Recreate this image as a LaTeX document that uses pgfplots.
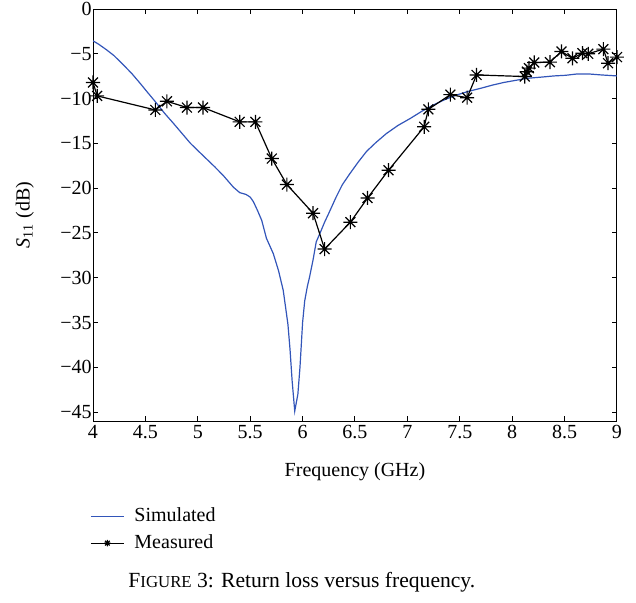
\documentclass[border=0pt]{standalone}
\usepackage{fontspec}
\setmainfont{Liberation Serif}
\usepackage{pgfplots}
\pgfplotsset{compat=1.18}
\definecolor{simblue}{RGB}{50,85,185}
\pgfdeclareplotmark{mstar}{%
 \pgfpathmoveto{\pgfqpoint{-\pgfplotmarksize}{0pt}}\pgfpathlineto{\pgfqpoint{\pgfplotmarksize}{0pt}}%
 \pgfpathmoveto{\pgfqpoint{0pt}{-\pgfplotmarksize}}\pgfpathlineto{\pgfqpoint{0pt}{\pgfplotmarksize}}%
 \pgfpathmoveto{\pgfqpoint{-.707\pgfplotmarksize}{-.707\pgfplotmarksize}}\pgfpathlineto{\pgfqpoint{.707\pgfplotmarksize}{.707\pgfplotmarksize}}%
 \pgfpathmoveto{\pgfqpoint{-.707\pgfplotmarksize}{.707\pgfplotmarksize}}\pgfpathlineto{\pgfqpoint{.707\pgfplotmarksize}{-.707\pgfplotmarksize}}%
 \pgfusepathqstroke}
\begin{document}
\fontsize{10}{12}\selectfont
\begin{tikzpicture}
\useasboundingbox (-46.5pt,-90.5pt) rectangle (271.5pt,210.5pt);
\begin{axis}[
  scale only axis, width=262pt, height=206pt,
  xmin=4, xmax=9, ymin=-46, ymax=0,
  xtick={4,4.5,...,9},
  xticklabels={4,4.5,5,5.5,6,6.5,7,7.5,8,8.5,9},
  ytick={-45,-40,...,0},
  yticklabels={−45,−40,−35,−30,−25,−20,−15,−10,−5,0},
  tick align=inside, major tick length=2.5pt,
  tick style={black, line width=0.5pt},
  axis line style={line width=0.5pt},
  /pgf/number format/assume math mode=true,
  ticklabel style={font=\fontsize{10}{12}\selectfont},
  yticklabel style={inner xsep=0.5pt},
  xticklabel style={inner ysep=2pt},
  label style={font=\fontsize{10}{12}\selectfont},
  xlabel={Frequency (GHz)},
  ylabel={\textit{S}\textsubscript{11} (dB)},
  xlabel style={at={(axis description cs:0.5,-0.124)}, anchor=center},
  ylabel style={at={(axis description cs:-0.13,0.5)}, anchor=center},
  legend style={at={(axis description cs:-0.006,-0.2)}, anchor=north west, draw=none, fill=none,
    font=\fontsize{10}{12}\selectfont, row sep=1pt, inner sep=0pt,
    nodes={inner xsep=5pt}},
  legend cell align=left,
  legend image code/.code={\draw[#1] (0cm,0cm) -- (0.58cm,0cm);
    \draw[#1,only marks,mark size=1.6pt] plot coordinates {(0.29cm,0cm)};},
]
\addplot[simblue, line width=0.6pt, no marks] coordinates {
(4.00,-3.55)(4.05,-3.9)(4.13,-4.56)(4.20,-5.2)(4.29,-6.24)(4.37,-7.2)(4.45,-8.3)(4.52,-9.3)
(4.595,-10.35)(4.68,-11.6)(4.77,-12.8)(4.85,-13.9)(4.93,-15.0)(5.00,-15.8)(5.08,-16.7)(5.16,-17.6)
(5.24,-18.55)(5.34,-19.9)(5.40,-20.5)(5.46,-20.7)(5.50,-21.0)(5.53,-21.5)(5.57,-22.5)(5.61,-23.6)
(5.655,-25.6)(5.72,-27.3)(5.77,-29.2)(5.815,-31.4)(5.84,-33.5)(5.86,-35.2)(5.88,-38.0)(5.90,-41.5)
(5.925,-44.9)(5.955,-43.0)(5.975,-40.0)(6.00,-35.0)(6.02,-32.6)(6.045,-31.0)(6.065,-30.0)(6.10,-28.0)
(6.13,-26.0)(6.16,-25.2)(6.21,-23.8)(6.25,-22.8)(6.32,-21.0)(6.38,-19.6)(6.45,-18.4)(6.53,-17.1)
(6.61,-15.9)(6.70,-14.9)(6.80,-13.9)(6.91,-13.0)(7.03,-12.2)(7.14,-11.4)(7.25,-10.7)(7.36,-10.1)
(7.47,-9.6)(7.58,-9.2)(7.70,-8.85)(7.81,-8.5)(7.92,-8.2)(8.04,-7.95)(8.15,-7.73)(8.28,-7.6)
(8.40,-7.47)(8.51,-7.4)(8.62,-7.25)(8.73,-7.25)(8.85,-7.36)(9.00,-7.47)
};
\addlegendentry{Simulated}
\addplot[black, line width=0.6pt, mark=mstar, mark size=3.5pt, mark options={line width=0.6pt}] coordinates {
(4.00,-8.2)(4.04,-9.7)(4.595,-11.27)(4.705,-10.3)(4.896,-11.0)(5.05,-11.0)(5.40,-12.6)(5.55,-12.6)
(5.706,-16.7)(5.85,-19.6)(6.10,-22.8)(6.21,-26.8)(6.456,-23.8)(6.62,-21.1)(6.82,-18.0)(7.16,-13.15)
(7.20,-11.2)(7.41,-9.56)(7.57,-9.9)(7.66,-7.36)(8.12,-7.54)(8.14,-7.0)(8.16,-6.6)(8.21,-5.97)
(8.36,-5.93)(8.47,-4.74)(8.575,-5.5)(8.67,-4.93)(8.725,-5.0)(8.87,-4.48)(8.915,-6.05)(9.00,-5.37)
};
\addlegendentry{Measured}
\end{axis}
\node[anchor=base west, inner sep=0pt] at (17.5pt,-83pt) {\fontsize{10.8}{13}\selectfont F{\fontsize{8.4}{10}\selectfont IGURE} 3: Return loss versus frequency.};
\end{tikzpicture}
\end{document}
